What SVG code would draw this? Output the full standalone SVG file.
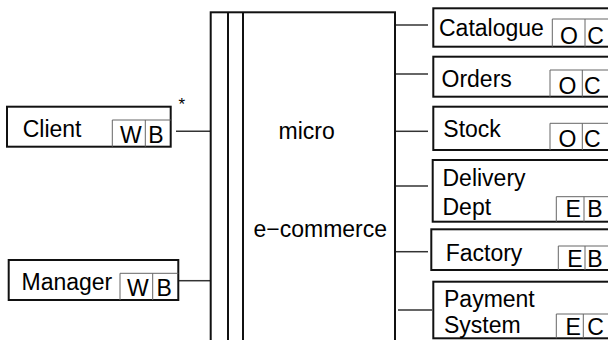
<svg xmlns="http://www.w3.org/2000/svg" width="608" height="340" viewBox="0 0 608 340">
<style>
.box{fill:#fff;stroke:#111;stroke-width:2}
.sub{fill:none;stroke:#666;stroke-width:1}
.con{stroke:#333;stroke-width:1.5;fill:none}
text{font-family:"Liberation Sans",Arial,sans-serif;font-size:23px;fill:#000}
</style>
<rect width="608" height="340" fill="#fff"/>
<g id="connectors">
<line class="con" x1="176" y1="131.3" x2="210" y2="131.3"/>
<line class="con" x1="178" y1="280.7" x2="210" y2="280.7"/>
<line class="con" x1="396" y1="25" x2="428" y2="25"/>
<line class="con" x1="396" y1="74" x2="428" y2="74"/>
<line class="con" x1="396" y1="131.3" x2="428" y2="131.3"/>
<line class="con" x1="396" y1="186" x2="428" y2="186"/>
<line class="con" x1="396" y1="251.7" x2="428" y2="251.7"/>
<line class="con" x1="398" y1="310" x2="432" y2="310"/>
<text x="178.5" y="110" style="font-size:17px">*</text>
</g>
<g id="ecommerce">
<rect class="box" x="210.7" y="12.3" width="184.3" height="340"/>
<line x1="228" y1="12.3" x2="228" y2="342" stroke="#111" stroke-width="2"/>
<line x1="243" y1="12.3" x2="243" y2="342" stroke="#111" stroke-width="2"/>
<text x="278.5" y="139">micro</text>
<text x="253.5" y="236.7">e−commerce</text>
</g>
<g id="client">
<rect class="box" x="7" y="106.7" width="163.7" height="40"/>
<path class="sub" d="M112.3 146.7V120H170.7M145.3 120V146.7"/>
<text x="22.7" y="137">Client</text>
<text x="120" y="143">W</text>
<text x="148.3" y="143">B</text>
</g>
<g id="manager">
<rect class="box" x="8.7" y="260" width="169.6" height="40"/>
<path class="sub" d="M120 300V273.3H178.3M152.7 273.3V300"/>
<text x="21.5" y="290">Manager</text>
<text x="127" y="296.3">W</text>
<text x="156.5" y="296.3">B</text>
</g>
<g id="catalogue">
<rect class="box" x="433.3" y="8.3" width="185" height="38.4"/>
<path class="sub" d="M552.3 46.7V19H610M585 19V46.7"/>
<text x="439" y="36">Catalogue</text>
<text x="560" y="43.5">O</text>
<text x="587.3" y="43.5">C</text>
</g>
<g id="orders">
<rect class="box" x="433.3" y="56.7" width="185" height="40"/>
<path class="sub" d="M550 96.7V70H610M582.3 70V96.7"/>
<text x="441.5" y="87.3">Orders</text>
<text x="558.5" y="93.5">O</text>
<text x="584" y="93.5">C</text>
</g>
<g id="stock">
<rect class="box" x="433.3" y="106.7" width="185" height="43.3"/>
<path class="sub" d="M550 150V123.3H610M582.3 123.3V150"/>
<text x="443.3" y="136.7">Stock</text>
<text x="558.5" y="147">O</text>
<text x="584" y="147">C</text>
</g>
<g id="delivery">
<rect class="box" x="432.7" y="160" width="185" height="61.7"/>
<path class="sub" d="M556.3 221.7V196.7H610M584 196.7V221.7"/>
<text x="442.5" y="186">Delivery</text>
<text x="442.5" y="215">Dept</text>
<text x="565.5" y="217">E</text>
<text x="587.3" y="217">B</text>
</g>
<g id="factory">
<rect class="box" x="431.3" y="229.3" width="185" height="40.7"/>
<path class="sub" d="M558.3 270V246H610M585 246V270"/>
<text x="445.7" y="260.7">Factory</text>
<text x="567.3" y="267">E</text>
<text x="587.3" y="267">B</text>
</g>
<g id="payment">
<rect class="box" x="433.3" y="281.7" width="185" height="56.6"/>
<path class="sub" d="M556.3 338.3V314H610M583.3 314V338.3"/>
<text x="444" y="306.7">Payment</text>
<text x="444" y="333.3">System</text>
<text x="565.5" y="334.5">E</text>
<text x="587.3" y="334.5">C</text>
</g>
</svg>
